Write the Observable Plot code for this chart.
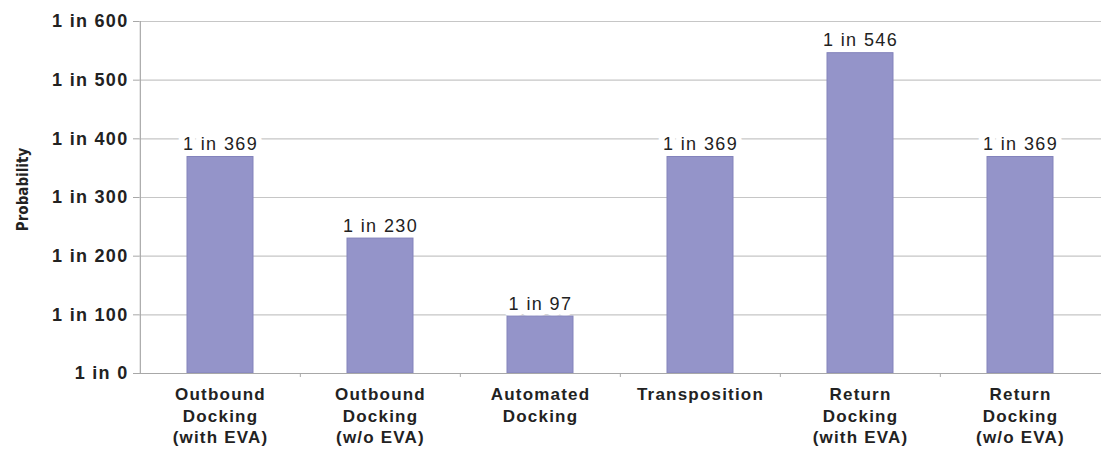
<!DOCTYPE html>
<html><head><meta charset="utf-8">
<script src="https://cdn.jsdelivr.net/npm/d3@7"></script>
<script src="https://cdn.jsdelivr.net/npm/@observablehq/plot@0.6"></script>
<style>
body{margin:0;background:#fff;}
#chart svg{display:block;}
g[aria-label="y-axis tick label"] text{letter-spacing:1.3px;}
g[aria-label="x-axis tick label"] text{letter-spacing:1.2px;}
g.barlabels text{letter-spacing:1.4px;}
g.ylabel text{font-family:"DejaVu Sans Condensed","Liberation Sans Narrow",sans-serif;font-weight:bold;}
</style></head><body><div id="chart"></div>
<script>
const categories = ["Outbound\nDocking\n(with EVA)", "Outbound\nDocking\n(w/o EVA)", "Automated\nDocking", "Transposition", "Return\nDocking\n(with EVA)", "Return\nDocking\n(w/o EVA)"];
const odds = [369, 230, 97, 369, 546, 369];
const yTicks = [0, 100, 200, 300, 400, 500, 600];
const yLabel = "Probability";

const data = categories.map((c, i) => ({category: c, odds: odds[i]}));
const W = 1101, H = 451, ML = 139, MR = 0;
const step = (W - ML - MR) / categories.length;

const plot = Plot.plot({
  width: W, height: H,
  marginLeft: ML, marginRight: MR, marginTop: 21, marginBottom: 78,
  style: {fontFamily: "'Liberation Sans', Arial, sans-serif", background: "#fff", color: "#222"},
  x: {domain: categories, paddingInner: 0.59, paddingOuter: 0.295, label: null},
  y: {domain: [0, 600], label: null},
  marks: [
    Plot.gridY(yTicks, {stroke: "#c6c6c6", strokeOpacity: 1, strokeWidth: 1.2}),
    Plot.text(data, {x: "category", y: "odds", text: d => `1 in ${d.odds}`, lineAnchor: "bottom", dy: -7,
      fontSize: 18, fill: "#222", stroke: "white", strokeWidth: 12, className: "barlabels"}),
    Plot.barY(data, {x: "category", y: "odds", fill: "#9494c9", stroke: "#8383bb", strokeWidth: 1}),
    Plot.ruleY([0], {stroke: "#a8a8a8", strokeWidth: 1.2}),
    Plot.ruleX([categories[0]], {dx: -step / 2, y1: 0, y2: 600, stroke: "#a8a8a8", strokeWidth: 1.2}),
    Plot.ruleX(categories.slice(1), {x: d => d, dx: -step / 2, y1: 0, y2: 0, insetBottom: -4, stroke: "#a8a8a8"}),
    Plot.axisY(yTicks, {tickFormat: d => `1 in ${d}`, tickSize: 6, tickPadding: 5, fontSize: 18, fontWeight: "bold",
      stroke: "#a8a8a8", fill: "#222", label: null}),
    Plot.text([yLabel], {frameAnchor: "left", rotate: -90, dx: -116, dy: -8, fontSize: 15, fill: "#222",
      textAnchor: "middle", lineAnchor: "middle", className: "ylabel"}),
    Plot.axisX({tickSize: 0, tickPadding: 12, fontSize: 17, fontWeight: "bold", lineHeight: 1.24, fill: "#222", label: null})
  ]
});
document.getElementById("chart").appendChild(plot);
</script>
</body></html>
